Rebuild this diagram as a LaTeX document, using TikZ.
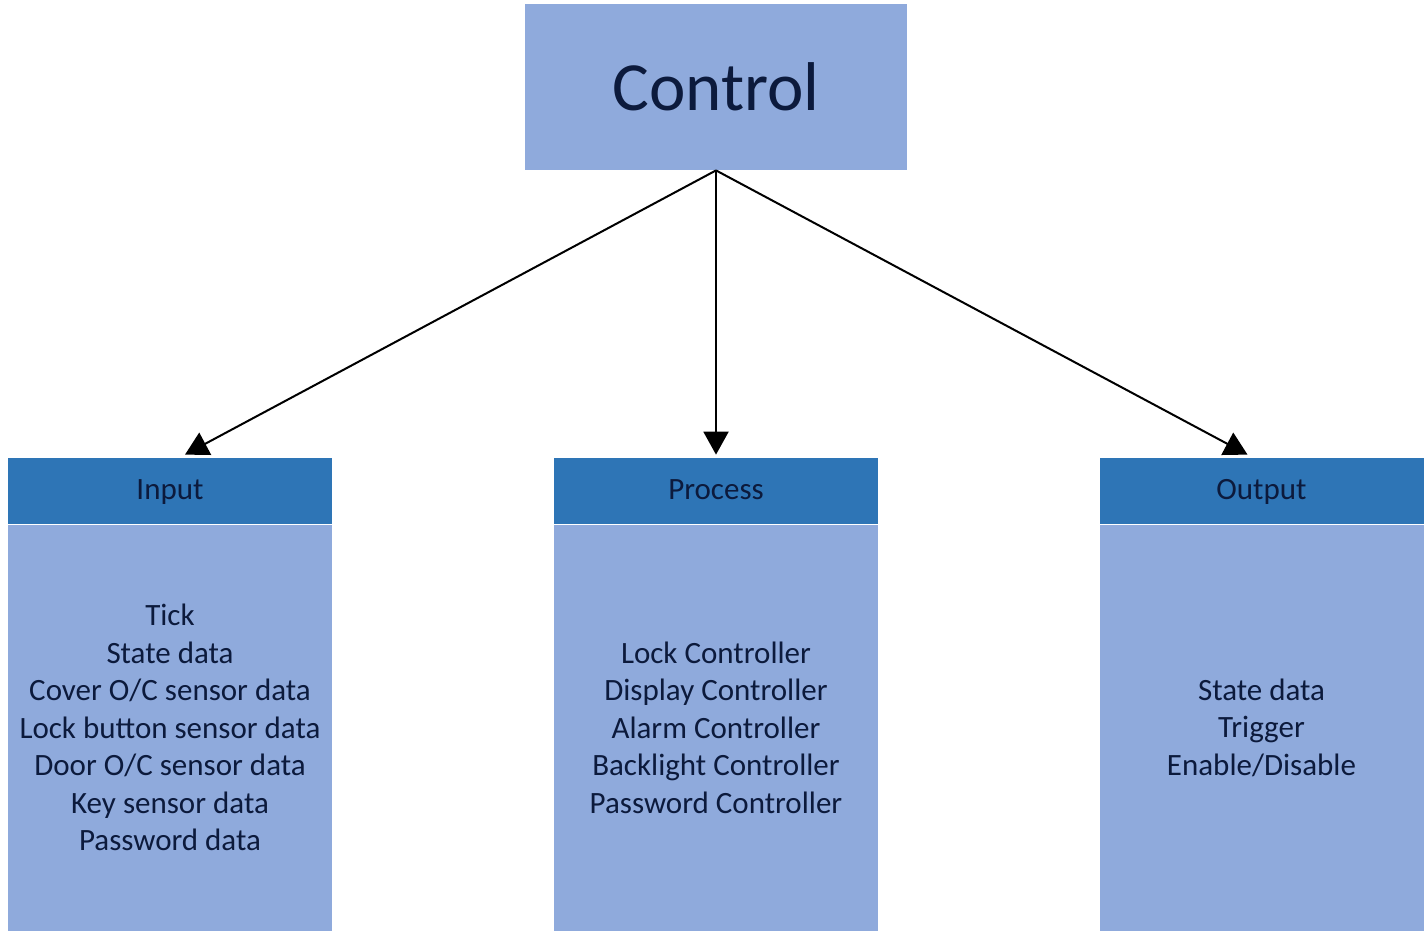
\documentclass[tikz,border=0pt]{standalone}
\usepackage{fontspec}
\setmainfont{Carlito}
\usetikzlibrary{positioning,arrows.meta}
\definecolor{headblue}{HTML}{2E75B6}
\definecolor{bodyblue}{HTML}{8FAADC}
\definecolor{textnavy}{HTML}{0C1A3C}
\tikzset{
	ctrlbox/.style={fill=bodyblue, minimum width=191pt, minimum height=83pt, inner sep=0pt,
		text=textnavy, font=\fontsize{34.5}{41}\selectfont},
	headbox/.style={fill=headblue, minimum width=162pt, minimum height=33pt, inner sep=0pt,
		text height=0.9em, text depth=0.1em,
		text=textnavy, font=\fontsize{15.5}{18.75}\selectfont},
	bodybox/.style={fill=bodyblue, minimum width=162pt, minimum height=203pt, inner sep=0pt,
		align=center, text=textnavy, font=\fontsize{15.5}{18.75}\selectfont},
	link/.style={-{Triangle[length=11.5pt, width=12.5pt]}, line width=1pt}
}
\begin{document}
\begin{tikzpicture}[x=0.5pt, y=-0.5pt]
			\useasboundingbox (0,0) rectangle (1427,934);
			
			% Draw the top box
			\node[ctrlbox] (control) at (716,87) {Control};
			
			% Draw the three columns
			\node[headbox] (inputhead) at (170,491) {Input};
			\node[bodybox, below=0pt of inputhead] (inputbody) {Tick\\State data\\Cover O/C sensor data\\Lock button sensor data\\Door O/C sensor data\\Key sensor data\\Password data};
			
			\node[headbox] (processhead) at (716,491) {Process};
			\node[bodybox, below=0pt of processhead] (processbody) {Lock Controller\\Display Controller\\Alarm Controller\\Backlight Controller\\Password Controller};
			
			\node[headbox] (outputhead) at (1261.5,491) {Output};
			\node[bodybox, below=0pt of outputhead] (outputbody) {State data\\Trigger\\Enable/Disable};
			
			% Draw arrows from the top box to each column
			\foreach \col/\dx in {input/7.5pt, process/0pt, output/-7pt} {
				\draw[link] (control.south) -- ([xshift=\dx, yshift=1.5pt]\col head.north);
			}
		\end{tikzpicture}
\end{document}
